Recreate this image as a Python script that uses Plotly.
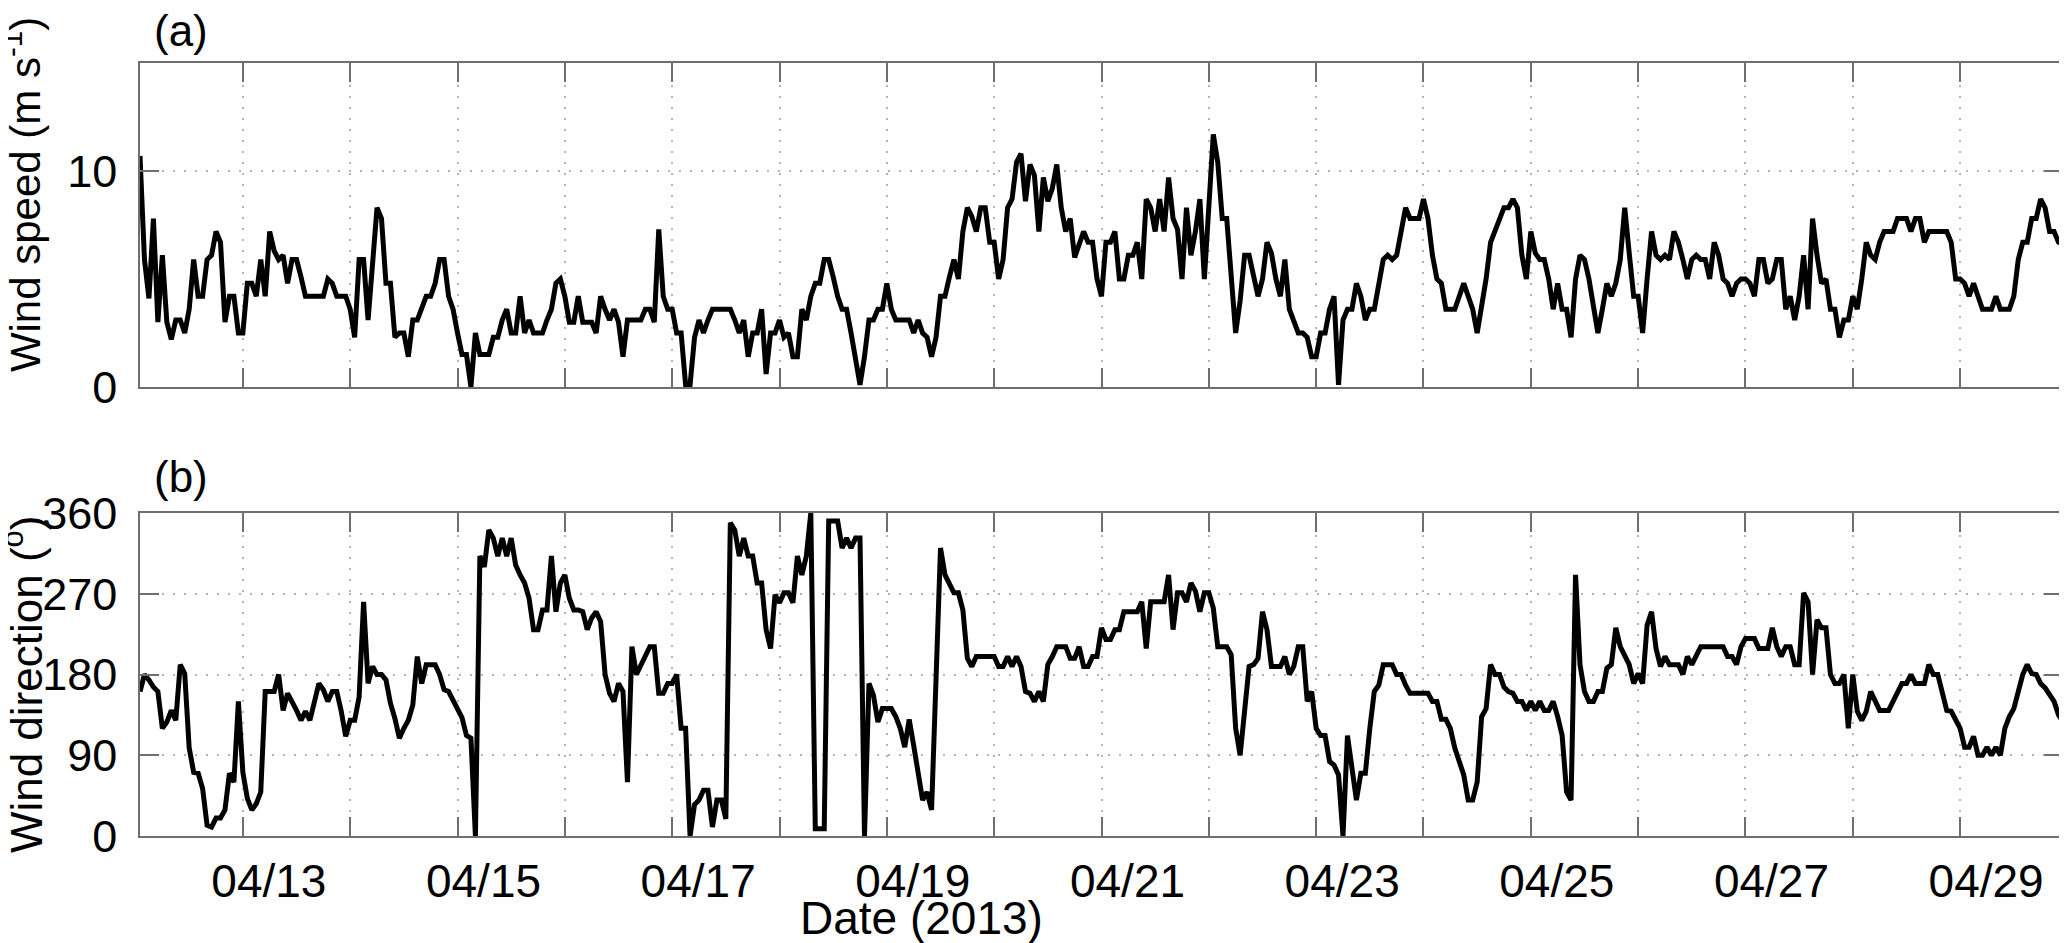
import pandas as pd
import plotly.graph_objects as go

# hourly record, first sample 2013-04-12 01:00
start_time = "2013-04-12 01:00"
x_start, x_end = "2013-04-12 01:00", "2013-04-29 23:00"

# wind speed (m/s)
wind_speed = [
    10.7, 5.9, 4.1, 7.8, 3.0, 6.1, 3.0, 2.2, 3.1, 3.1, 2.5, 3.6, 5.9, 4.2, 4.2, 5.9, 6.1, 7.2, 6.7, 3.0,
    4.2, 4.2, 2.5, 2.5, 4.8, 4.8, 4.2, 5.9, 4.2, 7.2, 6.3, 5.9, 6.1, 4.8, 5.9, 5.9, 5.1, 4.2, 4.2, 4.2,
    4.2, 4.2, 5.0, 4.8, 4.2, 4.2, 4.2, 3.6, 2.3, 5.9, 5.9, 3.1, 5.9, 8.3, 7.8, 4.8, 4.8, 2.3, 2.5, 2.5,
    1.4, 3.1, 3.1, 3.6, 4.2, 4.2, 4.8, 5.9, 5.9, 4.2, 3.6, 2.5, 1.5, 1.5, 0.0, 2.5, 1.5, 1.5, 1.5, 2.3,
    2.3, 3.1, 3.6, 2.5, 2.5, 4.2, 2.5, 3.1, 2.5, 2.5, 2.5, 3.1, 3.6, 4.8, 5.0, 4.2, 3.0, 3.0, 4.2, 3.0,
    3.0, 3.0, 2.5, 4.2, 3.6, 3.1, 3.6, 3.0, 1.4,
    3.1, 3.1, 3.1, 3.1, 3.6, 3.6, 3.0, 7.3, 4.2, 3.6, 3.6, 2.5, 2.5, 0.1, 0.1, 2.3, 3.1, 2.5, 3.1, 3.6,
    3.6, 3.6, 3.6, 3.6, 3.1, 2.5, 3.1, 1.4, 2.5, 2.5, 3.6, 0.6, 2.5, 2.5, 3.1, 2.3, 2.5, 1.4, 1.4, 3.6,
    3.1, 4.2, 4.8, 4.8, 5.9, 5.9, 5.1, 4.2, 3.6, 3.6, 2.5, 1.4, 0.1, 1.4, 3.1, 3.1, 3.6, 3.6, 4.8, 3.6,
    3.1, 3.1, 3.1, 3.1, 2.5, 3.1, 2.5, 2.3, 1.4, 2.3, 4.2, 4.2, 5.1, 5.9, 5.0, 7.2, 8.3, 7.9, 7.2, 8.3,
    8.3, 6.7, 6.7, 5.0, 5.9, 8.3, 8.7, 10.4, 10.8, 8.6, 10.3, 9.8, 7.2, 9.7, 8.6, 9.2, 10.3, 8.3, 7.2, 7.8,
    6.0, 6.7, 7.2, 6.7, 6.7, 5.0, 4.2,
    6.7, 6.7, 7.2, 5.0, 5.0, 6.1, 6.1, 6.7, 5.0, 8.7, 8.3, 7.2, 8.7, 7.2, 9.7, 7.8, 7.3, 5.0, 8.3, 6.1,
    7.2, 8.7, 5.0, 8.3, 11.7, 10.4, 7.8, 7.8, 5.1, 2.5, 4.0, 6.1, 6.1, 5.0, 4.2, 5.0, 6.7, 6.2, 5.0, 4.2,
    5.9, 3.6, 3.1, 2.5, 2.5, 2.3, 1.4, 1.4, 2.5, 2.5, 3.6, 4.2, 0.1, 3.1, 3.6, 3.6, 4.8, 4.2, 3.1, 3.6,
    3.6, 4.8, 5.9, 6.1, 5.9, 6.1, 7.2, 8.3, 7.8, 7.8, 7.8, 8.7, 7.8, 6.1, 5.0, 4.8, 3.6, 3.6, 3.6, 4.2,
    4.8, 4.2, 3.6, 2.5, 3.6, 5.0, 6.7, 7.2, 7.8, 8.3, 8.3, 8.7, 8.3, 6.1, 5.0, 7.2, 6.2, 5.9, 5.9, 5.0,
    3.6, 4.8, 3.6, 3.6, 2.3, 5.0, 6.1,
    5.9, 5.0, 3.6, 2.5, 3.6, 4.8, 4.2, 4.8, 5.9, 8.3, 6.2, 4.2, 4.2, 2.5, 5.0, 7.2, 6.1, 5.9, 6.1, 5.9,
    7.2, 6.7, 5.9, 5.0, 5.9, 6.1, 5.9, 5.9, 5.0, 6.7, 6.1, 5.0, 4.8, 4.2, 4.8, 5.0, 5.0, 4.8, 4.2, 5.9,
    5.9, 4.8, 5.0, 5.9, 5.9, 3.6, 4.2, 3.1, 4.2, 6.1, 3.6, 7.8, 6.1, 4.8, 5.0, 3.6, 3.6, 2.3, 3.1, 3.1,
    4.2, 3.6, 5.0, 6.7, 6.1, 5.9, 6.7, 7.2, 7.2, 7.2, 7.8, 7.8, 7.8, 7.2, 7.8, 7.8, 6.7, 7.2, 7.2, 7.2,
    7.2, 7.2, 6.7, 5.0, 5.0, 4.8, 4.2, 4.8, 4.2, 3.6, 3.6, 3.6, 4.2, 3.6, 3.6, 3.6, 4.2, 5.9, 6.7, 6.7,
    7.8, 7.8, 8.7, 8.3, 7.2, 7.2, 6.7, 6.6,
]

# wind direction (degrees)
wind_dir = [
    161, 180, 174, 166, 161, 120, 127, 140, 129, 191, 181, 98, 71, 70, 53, 12, 10, 20, 20, 29,
    70, 60, 150, 71, 42, 29, 36, 49, 161, 161, 161, 180, 140, 159, 150, 140, 129, 139, 129, 147,
    170, 163, 150, 161, 161, 139, 111, 129, 129, 155, 261, 170, 189, 180, 180, 174, 148, 131, 109, 120,
    129, 146, 200, 170, 191, 191, 191, 180, 163, 161, 152, 142, 132, 112, 109, 0, 312, 300, 341, 332,
    312, 332, 312, 332, 302, 291, 282, 265, 230, 230, 252, 252, 312, 250, 282, 291, 265, 252, 252, 250,
    230, 243, 250, 239, 180, 159, 150, 170, 161,
    60, 211, 180, 191, 200, 211, 211, 159, 159, 170, 170, 180, 120, 120, 0, 35, 40, 51, 51, 10,
    40, 40, 19, 349, 341, 312, 332, 312, 312, 282, 282, 230, 209, 269, 260, 271, 271, 260, 312, 291,
    312, 360, 8, 8, 8, 351, 351, 351, 321, 332, 321, 332, 332, 0, 170, 157, 127, 142, 142, 142,
    133, 120, 99, 130, 101, 68, 40, 49, 29, 175, 321, 291, 282, 271, 271, 252, 198, 189, 200, 200,
    200, 200, 200, 189, 189, 200, 189, 200, 189, 161, 159, 150, 161, 150, 191, 200, 211, 211, 211, 198,
    198, 211, 189, 189, 200, 200, 232,
    219, 219, 230, 230, 250, 250, 250, 250, 261, 209, 261, 261, 261, 261, 291, 230, 271, 271, 261, 282,
    273, 250, 271, 271, 254, 211, 211, 211, 202, 120, 90, 142, 189, 191, 198, 250, 230, 189, 189, 189,
    200, 180, 189, 211, 211, 150, 161, 120, 112, 112, 83, 79, 68, 0, 112, 71, 40, 70, 70, 120,
    161, 168, 191, 191, 191, 180, 180, 168, 159, 159, 159, 159, 159, 150, 150, 130, 130, 120, 98, 83,
    68, 40, 40, 60, 133, 142, 191, 180, 180, 166, 161, 159, 150, 150, 140, 150, 140, 150, 140, 140,
    150, 133, 112, 49, 40, 291, 191,
    161, 150, 150, 161, 161, 187, 191, 232, 211, 202, 191, 170, 181, 170, 235, 250, 209, 189, 200, 191,
    191, 191, 180, 200, 191, 200, 211, 211, 211, 211, 211, 211, 200, 200, 191, 211, 220, 220, 220, 209,
    209, 209, 232, 211, 200, 211, 211, 191, 191, 271, 261, 180, 241, 232, 232, 180, 170, 170, 180, 120,
    180, 139, 129, 139, 161, 150, 140, 140, 140, 150, 161, 170, 170, 180, 170, 170, 170, 191, 180, 180,
    161, 140, 139, 129, 120, 99, 99, 111, 90, 90, 99, 90, 99, 90, 120, 133, 142, 161, 180, 191,
    181, 180, 170, 165, 158, 150, 135, 127,
]

speed_ticks = [0, 10]
dir_ticks = [0, 90, 180, 270, 360]

times = pd.date_range(start_time, periods=len(wind_speed), freq="h")
day_ticks = pd.date_range("2013-04-13", "2013-04-29", freq="D")
day_labels = [d.strftime("%m/%d") if d.day % 2 == 1 else "" for d in day_ticks]

# the page body has an 8px margin, so the figure is a bit smaller than the window
OFF = 8
WIN_W, WIN_H = 2067, 943
FIG_W, FIG_H = WIN_W - OFF, WIN_H - OFF
# plot box in window pixels
BOX_L, BOX_R, BOX_T, BOX_B = 140, 2065, 63, 836
BOX_W, BOX_H = BOX_R - BOX_L, BOX_B - BOX_T


def px(x):
    return (x - BOX_L) / BOX_W


def py(y):
    return (BOX_B - y) / BOX_H


FONT = "Liberation Sans, Arial, sans-serif"
AX_COL = "#6f6f6f"
GRID_COL = "#b5b5b5"

fig = go.Figure()
fig.add_trace(go.Scatter(x=times, y=wind_speed, mode="lines",
                         line=dict(color="black", width=5), xaxis="x", yaxis="y"))
fig.add_trace(go.Scatter(x=times, y=wind_dir, mode="lines",
                         line=dict(color="black", width=5), xaxis="x2", yaxis="y2"))

xcommon = dict(
    type="date", range=[x_start, x_end], tickmode="array", tickvals=day_ticks,
    ticks="inside", ticklen=19, tickwidth=1.5, tickcolor=AX_COL,
    showline=True, linecolor=AX_COL, linewidth=1.5, mirror="ticks",
    showgrid=True, gridcolor=GRID_COL, gridwidth=1.5, griddash="2px,9px",
    zeroline=False,
)
ycommon = dict(
    ticks="inside", ticklen=19, tickwidth=1.5, tickcolor=AX_COL,
    showline=True, linecolor=AX_COL, linewidth=1.5, mirror="ticks",
    showgrid=True, gridcolor=GRID_COL, gridwidth=1.5, griddash="2px,9px",
    zeroline=False, tickfont=dict(family=FONT, size=45, color="black"),
    ticklabelstandoff=12,
)

fig.update_layout(
    width=FIG_W, height=FIG_H,
    margin=dict(l=BOX_L - OFF, r=FIG_W - (BOX_R - OFF), t=BOX_T - OFF,
                b=FIG_H - (BOX_B - OFF), pad=0),
    paper_bgcolor="white", plot_bgcolor="white",
    showlegend=False,
    font=dict(family=FONT, size=46, color="black"),
    xaxis=dict(xcommon, domain=[0, 1], anchor="y", showticklabels=False),
    yaxis=dict(ycommon, domain=[py(387), 1], anchor="x", range=[0, 15],
               tickvals=speed_ticks),
    xaxis2=dict(xcommon, domain=[0, 1], anchor="y2", ticktext=day_labels,
                tickfont=dict(family=FONT, size=46, color="black"),
                ticklabelshift=26, ticklabelstandoff=4),
    yaxis2=dict(ycommon, domain=[0, py(513)], anchor="x2", range=[0, 360],
                tickvals=dir_ticks),
)

ann = dict(xref="paper", yref="paper", showarrow=False,
           font=dict(family=FONT, size=44, color="black"))
fig.add_annotation(ann, text="(a)", x=px(152), y=py(30), xanchor="left", yanchor="middle")
fig.add_annotation(ann, text="(b)", x=px(152), y=py(476), xanchor="left", yanchor="middle")
fig.add_annotation(ann, text="Wind speed (m s<sup>-1</sup>)", x=px(22), y=py(195),
                   xanchor="center", yanchor="middle", textangle=-90,
                   font=dict(family=FONT, size=42, color="black"))
fig.add_annotation(ann, text="Wind direction (<sup>o</sup>)", x=px(22), y=py(685),
                   xanchor="center", yanchor="middle", textangle=-90)
fig.add_annotation(ann, text="Date (2013)", x=px(922), y=py(918),
                   xanchor="center", yanchor="middle",
                   font=dict(family=FONT, size=46, color="black"))

fig.write_html("out.html")
